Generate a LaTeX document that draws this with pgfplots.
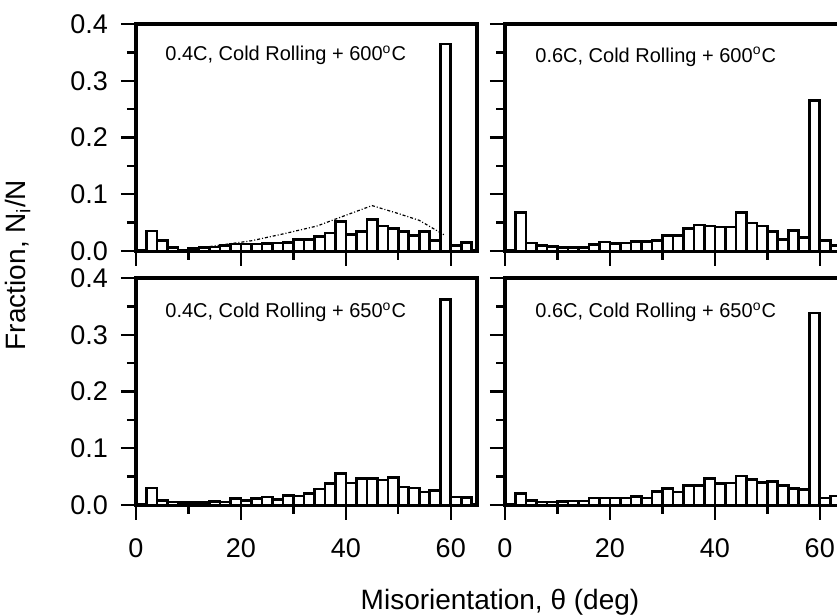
\documentclass[border=0pt]{standalone}
\usepackage{fontspec}
\setmainfont{Liberation Sans}
\usepackage{pgfplots}
\usepackage{pgfplotstable}
\pgfplotsset{compat=1.18}

\pgfplotstableread{
x y
0 0
2 0.035
4 0.018
6 0.006
8 0.002
10 0.004
12 0.006
14 0.007
16 0.010
18 0.012
20 0.012
22 0.012
24 0.013
26 0.014
28 0.015
30 0.020
32 0.020
34 0.026
36 0.032
38 0.052
40 0.029
42 0.034
44 0.056
46 0.044
48 0.040
50 0.034
52 0.027
54 0.034
56 0.018
58 0.365
60 0.010
62 0.015
64 0
}\tlA

\pgfplotstableread{
x y
0 0
2 0.068
4 0.014
6 0.010
8 0.008
10 0.006
12 0.006
14 0.006
16 0.011
18 0.016
20 0.013
22 0.014
24 0.017
26 0.017
28 0.019
30 0.027
32 0.027
34 0.040
36 0.046
38 0.044
40 0.042
42 0.042
44 0.068
46 0.049
48 0.044
50 0.034
52 0.020
54 0.036
56 0.024
58 0.265
60 0.019
62 0.010
64 0
}\trA

\pgfplotstableread{
x y
0 0
2 0.030
4 0.008
6 0.005
8 0.004
10 0.004
12 0.004
14 0.006
16 0.005
18 0.011
20 0.008
22 0.011
24 0.014
26 0.010
28 0.017
30 0.016
32 0.020
34 0.028
36 0.038
38 0.056
40 0.039
42 0.047
44 0.047
46 0.044
48 0.048
50 0.032
52 0.030
54 0.023
56 0.026
58 0.362
60 0.014
62 0.013
64 0
}\blA

\pgfplotstableread{
x y
0 0
2 0.020
4 0.008
6 0.005
8 0.005
10 0.006
12 0.007
14 0.007
16 0.012
18 0.012
20 0.012
22 0.012
24 0.015
26 0.012
28 0.024
30 0.029
32 0.023
34 0.034
36 0.034
38 0.047
40 0.038
42 0.039
44 0.051
46 0.045
48 0.040
50 0.041
52 0.034
54 0.029
56 0.027
58 0.338
60 0.012
62 0.016
64 0
}\brA

\pgfplotsset{
  panel/.style={
    scale only axis, width=170.5pt, height=113.5pt,
    xmin=0, xmax=65, ymin=0, ymax=0.4,
    xtick={0,20,40,60}, minor xtick={10,30,50},
    ytick={0,0.1,0.2,0.3,0.4}, minor ytick={0.05,0.15,0.25,0.35},
    tick align=outside, xtick pos=left, ytick pos=left,
    major tick length=7.5pt, minor tick length=4.5pt,
    every tick/.append style={black, line width=1.2pt},
    axis line style={line width=1.6pt},
    tick label style={font=\fontsize{13.5}{16}\selectfont},
    /pgf/number format/assume math mode=true,
    scaled y ticks=false,
    yticklabel style={/pgf/number format/fixed, /pgf/number format/fixed zerofill, /pgf/number format/precision=1, xshift=-3pt},
    xticklabel style={yshift=-6pt},
  },
  bars/.style={ybar interval, fill=white, draw=black, line width=1.3pt},
}
\tikzset{lab/.style={anchor=west, inner sep=0pt, font=\fontsize{10}{12}\selectfont}}

\begin{document}
\begin{tikzpicture}
% top left
\begin{axis}[panel, at={(68pt,182.5pt)}, anchor=south west, xticklabels={}]
\addplot[bars] table[x=x,y=y] {\tlA};
\addplot[black, line width=0.6pt, dash pattern=on 1.5pt off 1pt on 0.5pt off 1pt] coordinates {
(8,0) (15,0.009) (22,0.018) (28,0.030) (34.5,0.044) (40,0.063) (45,0.080) (50,0.066) (54,0.054) (59,0.027)};
\node[lab] at (rel axis cs:0.085,0.863) {0.4C, Cold Rolling + 600\textsuperscript{o}C};
\end{axis}
% top right
\begin{axis}[panel, at={(252.5pt,182.5pt)}, anchor=south west, xticklabels={}, yticklabels={}]
\addplot[bars] table[x=x,y=y] {\trA};
\node[lab] at (rel axis cs:0.088,0.855) {0.6C, Cold Rolling + 600\textsuperscript{o}C};
\end{axis}
% bottom left
\begin{axis}[panel, at={(68pt,55.5pt)}, anchor=south west]
\addplot[bars] table[x=x,y=y] {\blA};
\node[lab] at (rel axis cs:0.085,0.85) {0.4C, Cold Rolling + 650\textsuperscript{o}C};
\end{axis}
% bottom right
\begin{axis}[panel, at={(252.5pt,55.5pt)}, anchor=south west, yticklabels={}]
\addplot[bars] table[x=x,y=y] {\brA};
\node[lab] at (rel axis cs:0.088,0.85) {0.6C, Cold Rolling + 650\textsuperscript{o}C};
\end{axis}
\node[rotate=90, font=\fontsize{14}{16}\selectfont] at (9pt,175.5pt) {Fraction, N\textsubscript{i}/N};
\node[anchor=base, font=\fontsize{14}{16}\selectfont] at (250pt,3pt) {Misorientation, θ (deg)};
\pgfresetboundingbox
\useasboundingbox (0,0) rectangle (418.5pt,308pt);
\end{tikzpicture}
\end{document}
